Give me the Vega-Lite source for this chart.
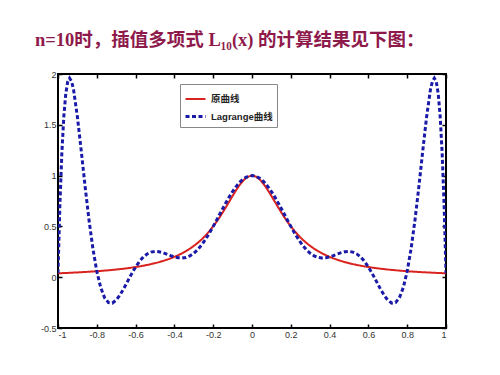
{
  "$schema": "https://vega.github.io/schema/vega-lite/v6.json",
  "autosize": "none",
  "width": 388,
  "height": 254,
  "padding": {"left": 58, "top": 74, "right": 54, "bottom": 47},
  "background": "white",
  "title": {
    "text": "n=10时，插值多项式 L₁₀(x) 的计算结果见下图：",
    "anchor": "start",
    "frame": "group",
    "dx": -23,
    "offset": 21,
    "fontSize": 18.5,
    "font": "Times New Roman, Liberation Serif, Noto Sans CJK SC",
    "fontWeight": "bold",
    "color": "#8E1A4C"
  },
  "config": {
    "view": {"stroke": "black", "strokeWidth": 2},
    "axis": {
      "grid": false,
      "domain": false,
      "tickColor": "black",
      "tickWidth": 1.5,
      "tickSize": -4,
      "labelFont": "Arial, Liberation Sans",
      "labelFontSize": 9,
      "labelColor": "#333333",
      "title": null
    }
  },
  "data": {
    "values": [
      {"x": -1.00, "f": 0.0385, "L": 0.0385},
      {"x": -0.99, "f": 0.0392, "L": 0.7261},
      {"x": -0.98, "f": 0.0400, "L": 1.2286},
      {"x": -0.97, "f": 0.0408, "L": 1.5811},
      {"x": -0.96, "f": 0.0416, "L": 1.8044},
      {"x": -0.95, "f": 0.0424, "L": 1.9236},
      {"x": -0.94, "f": 0.0433, "L": 1.9592},
      {"x": -0.93, "f": 0.0442, "L": 1.9279},
      {"x": -0.92, "f": 0.0451, "L": 1.8483},
      {"x": -0.90, "f": 0.0471, "L": 1.5787},
      {"x": -0.88, "f": 0.0491, "L": 1.2402},
      {"x": -0.86, "f": 0.0513, "L": 0.8881},
      {"x": -0.84, "f": 0.0537, "L": 0.5605},
      {"x": -0.82, "f": 0.0562, "L": 0.2801},
      {"x": -0.80, "f": 0.0588, "L": 0.0588},
      {"x": -0.78, "f": 0.0617, "L": -0.1015},
      {"x": -0.76, "f": 0.0648, "L": -0.2013},
      {"x": -0.74, "f": 0.0681, "L": -0.2496},
      {"x": -0.72, "f": 0.0716, "L": -0.2546},
      {"x": -0.70, "f": 0.0755, "L": -0.2262},
      {"x": -0.68, "f": 0.0796, "L": -0.1744},
      {"x": -0.66, "f": 0.0841, "L": -0.1083},
      {"x": -0.64, "f": 0.0890, "L": -0.0363},
      {"x": -0.62, "f": 0.0943, "L": 0.0349},
      {"x": -0.60, "f": 0.1000, "L": 0.1000},
      {"x": -0.58, "f": 0.1063, "L": 0.1554},
      {"x": -0.56, "f": 0.1131, "L": 0.1987},
      {"x": -0.54, "f": 0.1206, "L": 0.2292},
      {"x": -0.52, "f": 0.1289, "L": 0.2472},
      {"x": -0.50, "f": 0.1379, "L": 0.2538},
      {"x": -0.48, "f": 0.1479, "L": 0.2510},
      {"x": -0.46, "f": 0.1590, "L": 0.2415},
      {"x": -0.44, "f": 0.1712, "L": 0.2279},
      {"x": -0.42, "f": 0.1848, "L": 0.2131},
      {"x": -0.40, "f": 0.2000, "L": 0.2000},
      {"x": -0.38, "f": 0.2169, "L": 0.1912},
      {"x": -0.36, "f": 0.2358, "L": 0.1888},
      {"x": -0.34, "f": 0.2571, "L": 0.1946},
      {"x": -0.32, "f": 0.2809, "L": 0.2099},
      {"x": -0.30, "f": 0.3077, "L": 0.2354},
      {"x": -0.28, "f": 0.3378, "L": 0.2710},
      {"x": -0.26, "f": 0.3717, "L": 0.3165},
      {"x": -0.24, "f": 0.4098, "L": 0.3708},
      {"x": -0.22, "f": 0.4525, "L": 0.4326},
      {"x": -0.20, "f": 0.5000, "L": 0.5000},
      {"x": -0.18, "f": 0.5525, "L": 0.5710},
      {"x": -0.16, "f": 0.6098, "L": 0.6432},
      {"x": -0.14, "f": 0.6711, "L": 0.7142},
      {"x": -0.12, "f": 0.7353, "L": 0.7818},
      {"x": -0.10, "f": 0.8000, "L": 0.8434},
      {"x": -0.08, "f": 0.8621, "L": 0.8971},
      {"x": -0.06, "f": 0.9174, "L": 0.9409},
      {"x": -0.04, "f": 0.9615, "L": 0.9734},
      {"x": -0.02, "f": 0.9901, "L": 0.9933},
      {"x": 0.00, "f": 1.0000, "L": 1.0000},
      {"x": 0.02, "f": 0.9901, "L": 0.9933},
      {"x": 0.04, "f": 0.9615, "L": 0.9734},
      {"x": 0.06, "f": 0.9174, "L": 0.9409},
      {"x": 0.08, "f": 0.8621, "L": 0.8971},
      {"x": 0.10, "f": 0.8000, "L": 0.8434},
      {"x": 0.12, "f": 0.7353, "L": 0.7818},
      {"x": 0.14, "f": 0.6711, "L": 0.7142},
      {"x": 0.16, "f": 0.6098, "L": 0.6432},
      {"x": 0.18, "f": 0.5525, "L": 0.5710},
      {"x": 0.20, "f": 0.5000, "L": 0.5000},
      {"x": 0.22, "f": 0.4525, "L": 0.4326},
      {"x": 0.24, "f": 0.4098, "L": 0.3708},
      {"x": 0.26, "f": 0.3717, "L": 0.3165},
      {"x": 0.28, "f": 0.3378, "L": 0.2710},
      {"x": 0.30, "f": 0.3077, "L": 0.2354},
      {"x": 0.32, "f": 0.2809, "L": 0.2099},
      {"x": 0.34, "f": 0.2571, "L": 0.1946},
      {"x": 0.36, "f": 0.2358, "L": 0.1888},
      {"x": 0.38, "f": 0.2169, "L": 0.1912},
      {"x": 0.40, "f": 0.2000, "L": 0.2000},
      {"x": 0.42, "f": 0.1848, "L": 0.2131},
      {"x": 0.44, "f": 0.1712, "L": 0.2279},
      {"x": 0.46, "f": 0.1590, "L": 0.2415},
      {"x": 0.48, "f": 0.1479, "L": 0.2510},
      {"x": 0.50, "f": 0.1379, "L": 0.2538},
      {"x": 0.52, "f": 0.1289, "L": 0.2472},
      {"x": 0.54, "f": 0.1206, "L": 0.2292},
      {"x": 0.56, "f": 0.1131, "L": 0.1987},
      {"x": 0.58, "f": 0.1063, "L": 0.1554},
      {"x": 0.60, "f": 0.1000, "L": 0.1000},
      {"x": 0.62, "f": 0.0943, "L": 0.0349},
      {"x": 0.64, "f": 0.0890, "L": -0.0363},
      {"x": 0.66, "f": 0.0841, "L": -0.1083},
      {"x": 0.68, "f": 0.0796, "L": -0.1744},
      {"x": 0.70, "f": 0.0755, "L": -0.2262},
      {"x": 0.72, "f": 0.0716, "L": -0.2546},
      {"x": 0.74, "f": 0.0681, "L": -0.2496},
      {"x": 0.76, "f": 0.0648, "L": -0.2013},
      {"x": 0.78, "f": 0.0617, "L": -0.1015},
      {"x": 0.80, "f": 0.0588, "L": 0.0588},
      {"x": 0.82, "f": 0.0562, "L": 0.2801},
      {"x": 0.84, "f": 0.0537, "L": 0.5605},
      {"x": 0.86, "f": 0.0513, "L": 0.8881},
      {"x": 0.88, "f": 0.0491, "L": 1.2402},
      {"x": 0.90, "f": 0.0471, "L": 1.5787},
      {"x": 0.92, "f": 0.0451, "L": 1.8483},
      {"x": 0.93, "f": 0.0442, "L": 1.9279},
      {"x": 0.94, "f": 0.0433, "L": 1.9592},
      {"x": 0.95, "f": 0.0424, "L": 1.9236},
      {"x": 0.96, "f": 0.0416, "L": 1.8044},
      {"x": 0.97, "f": 0.0408, "L": 1.5811},
      {"x": 0.98, "f": 0.0400, "L": 1.2286},
      {"x": 0.99, "f": 0.0392, "L": 0.7261},
      {"x": 1.00, "f": 0.0385, "L": 0.0385}
    ]
  },
  "transform": [{"fold": ["f", "L"], "as": ["series", "y"]}],
  "layer": [
    {
      "mark": {"type": "line", "clip": true},
      "encoding": {
        "x": {
          "field": "x", "type": "quantitative",
          "scale": {"domain": [-1, 1], "nice": false, "zero": false},
          "axis": {"orient": "bottom", "values": [-1, -0.8, -0.6, -0.4, -0.2, 0, 0.2, 0.4, 0.6, 0.8, 1], "labelPadding": 6, "labelExpr": "replace(format(datum.value, '~g'), '−', '-')"}
        },
        "y": {
          "field": "y", "type": "quantitative",
          "scale": {"domain": [-0.5, 2], "nice": false, "zero": false},
          "axis": {"orient": "left", "values": [-0.5, 0, 0.5, 1, 1.5, 2], "labelPadding": 6, "labelExpr": "replace(format(datum.value, '~g'), '−', '-')"}
        },
        "color": {
          "field": "series", "type": "nominal",
          "scale": {"domain": ["f", "L"], "range": ["#D8231F", "#1A1AA8"]},
          "legend": {
            "title": null,
            "orient": "none",
            "legendX": 122,
            "legendY": 10,
            "symbolType": "stroke",
            "symbolSize": 400,
            "symbolStrokeWidth": 2,
            "labelFont": "Arial, Liberation Sans, Noto Sans CJK SC",
            "labelFontSize": 9.5,
            "labelFontWeight": "bold",
            "labelColor": "#222222",
            "strokeColor": "#888888",
            "fillColor": "white",
            "padding": 4,
            "rowPadding": 1,
            "labelExpr": "datum.label == 'f' ? '原曲线' : 'Lagrange曲线'"
          }
        },
        "strokeDash": {
          "field": "series", "type": "nominal",
          "scale": {"domain": ["f", "L"], "range": [[1, 0], [4, 2.5]]},
          "legend": null
        },
        "strokeWidth": {
          "field": "series", "type": "nominal",
          "scale": {"domain": ["f", "L"], "range": [2, 3]},
          "legend": null
        }
      }
    },
    {
      "mark": {"type": "line", "strokeOpacity": 0},
      "encoding": {
        "x": {
          "field": "x", "type": "quantitative",
          "scale": {"domain": [-1, 1], "nice": false, "zero": false},
          "axis": {"orient": "top", "values": [-1, -0.8, -0.6, -0.4, -0.2, 0, 0.2, 0.4, 0.6, 0.8, 1], "labels": false}
        },
        "y": {
          "field": "y", "type": "quantitative",
          "scale": {"domain": [-0.5, 2], "nice": false, "zero": false},
          "axis": {"orient": "right", "values": [-0.5, 0, 0.5, 1, 1.5, 2], "labels": false}
        },
        "detail": {"field": "series"}
      }
    }
  ],
  "resolve": {"axis": {"x": "independent", "y": "independent"}}
}
